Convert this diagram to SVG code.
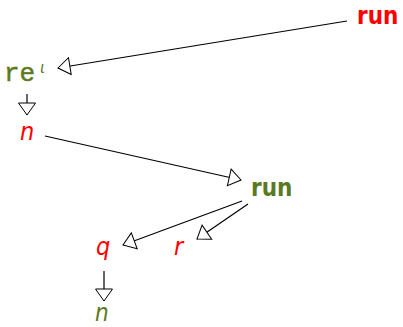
<svg xmlns="http://www.w3.org/2000/svg" width="403" height="327" viewBox="0 0 403 327">
<defs>
<marker id="ah" viewBox="-1 -10 14 20" refX="12" refY="0" markerWidth="14" markerHeight="20" markerUnits="userSpaceOnUse" orient="auto">
<path d="M0,-8.5 L12,0 L0,8.5 Z" fill="#fff" stroke="#000" stroke-width="1"/>
</marker>
<style>
.e{stroke:#000;stroke-width:1.2;fill:none;marker-end:url(#ah)}
.b{font-family:"DejaVu Sans Condensed","DejaVu Sans",sans-serif;font-weight:bold;font-size:24px}
.i{font-family:"DejaVu Sans Condensed","DejaVu Sans",sans-serif;font-style:italic;font-size:25px}
.red{fill:#ff0000}
.grn{fill:#5a7a22}
</style>
</defs>
<rect width="403" height="327" fill="#fff"/>
<g id="connectors">
<line class="e" x1="347" y1="21" x2="58" y2="68"/>
<line class="e" x1="27" y1="94" x2="27" y2="115"/>
<line class="e" x1="45" y1="136" x2="241" y2="180"/>
<line class="e" x1="242" y1="201" x2="123" y2="245"/>
<line class="e" x1="248" y1="204" x2="197" y2="239"/>
<line class="e" x1="104" y1="271" x2="104" y2="301"/>
</g>
<g id="run1"><text class="b red" x="357" y="24">run</text></g>
<g id="re"><text x="4" y="81" font-family="Liberation Mono, monospace" font-size="26" class="grn" stroke="#5a7a22" stroke-width="0.5">re</text><text x="40" y="73" class="grn" font-family="DejaVu Sans, sans-serif" font-style="italic" font-size="15">ι</text></g>
<g id="n1"><text class="i red" x="20" y="140">n</text></g>
<g id="run2"><text class="b grn" x="251" y="196">run</text></g>
<g id="q"><text class="i red" x="96" y="255">q</text></g>
<g id="r"><text class="i red" x="174" y="255">r</text></g>
<g id="n2"><text class="i grn" x="95" y="321" style="font-size:24px">n</text></g>
</svg>
